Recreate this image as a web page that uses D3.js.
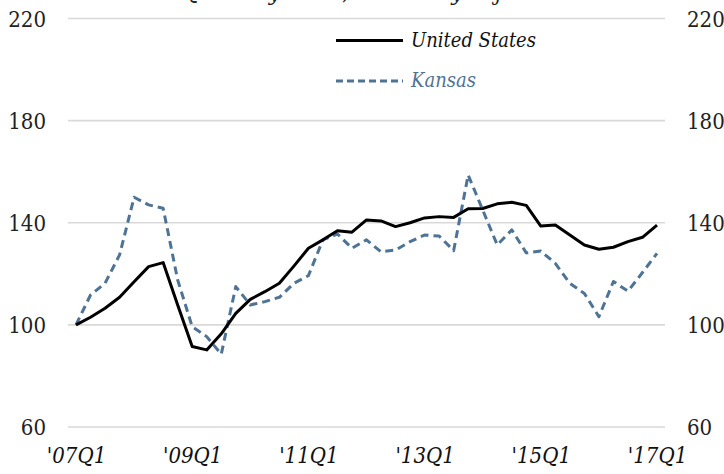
<!DOCTYPE html>
<html>
<head>
<meta charset="utf-8">
<script src="https://cdn.jsdelivr.net/npm/d3@7"></script>
<style>
  html, body { margin: 0; padding: 0; background: #fff; }
  .serif { font-family: "DejaVu Serif Condensed", "DejaVu Serif", serif; font-stretch: condensed; }
</style>
</head>
<body>
<svg id="chart" width="724" height="474"></svg>
<script>
// Quarterly index, 2007Q1 = 100
const quarters = [];
for (let yr = 7; yr <= 17; yr++) {
  for (let q = 1; q <= 4; q++) {
    if (yr === 17 && q > 1) break;
    quarters.push("'" + String(yr).padStart(2, "0") + "Q" + q);
  }
}

const unitedStates = [
  100, 103, 106.5, 110.8, 116.9, 122.8, 124.4, 107.8, 91.5, 90.2,
  96.5, 104.5, 110, 113, 116.3, 123, 130, 133.3, 136.9, 136.3,
  141.1, 140.7, 138.5, 140, 141.9, 142.4, 142.1, 145.5, 145.6, 147.4,
  148, 146.8, 138.7, 139.1, 135.2, 131.3, 129.6, 130.4, 132.6, 134.3,
  139.1
];

const kansas = [
  100, 111.7, 116.3, 127.4, 150, 147, 145.7, 117.6, 99.3, 95.4,
  88.5, 115, 107.8, 109.1, 110.8, 116.3, 119.3, 133.3, 135.6, 130,
  133.3, 128.6, 129.3, 132.6, 135.2, 134.8, 129.1, 158.7, 145, 131.3,
  137.2, 128.2, 128.9, 124.1, 116.3, 112.3, 103.2, 117, 113.2, 120.5,
  128
];

const yTicks = [60, 100, 140, 180, 220];
const xTickLabels = ["'07Q1", "'09Q1", "'11Q1", "'13Q1", "'15Q1", "'17Q1"];

const seriesNames = ["United States", "Kansas"];
const seriesColors = ["#000000", "#4f7395"];

const svg = d3.select("#chart");

const x = d3.scalePoint().domain(quarters).range([76, 657]);
const y = d3.scaleLinear().domain([60, 220]).range([427, 18.5]);

// Horizontal gridlines
svg.append("g")
  .selectAll("line")
  .data(yTicks)
  .join("line")
  .attr("x1", 68).attr("x2", 665)
  .attr("y1", d => y(d)).attr("y2", d => y(d))
  .attr("stroke", "#d9d9d9")
  .attr("stroke-width", 1.6);

// Left and right value axes
const leftAxis = svg.append("g")
  .attr("transform", "translate(46,0)")
  .call(d3.axisLeft(y).tickValues(yTicks).tickSize(0).tickPadding(0));
const rightAxis = svg.append("g")
  .attr("transform", "translate(687,0)")
  .call(d3.axisRight(y).tickValues(yTicks).tickSize(0).tickPadding(0));
[leftAxis, rightAxis].forEach(g => {
  g.attr("font-family", null);
  g.select(".domain").remove();
  g.selectAll("text")
    .attr("class", "serif")
    .attr("font-size", 22)
    .attr("fill", "#222")
    .attr("dy", "0.36em");
});

// Category axis
const xAxis = svg.append("g")
  .attr("transform", "translate(0,447)")
  .call(d3.axisBottom(x).tickValues(xTickLabels).tickSize(0).tickPadding(0));
xAxis.attr("font-family", null);
xAxis.select(".domain").remove();
xAxis.selectAll("text")
  .attr("class", "serif")
  .attr("font-size", 22)
  .attr("font-style", "italic")
  .attr("fill", "#111")
  .attr("dy", "0.71em");

// Heading, running off the top edge
svg.append("text")
  .attr("class", "serif")
  .attr("x", 370).attr("y", 0)
  .attr("text-anchor", "middle")
  .attr("font-size", 22)
  .attr("font-style", "italic")
  .attr("fill", "#222")
  .text("Quarterly Index, Seasonally Adjusted");

const line = d3.line()
  .x((d, i) => x(quarters[i]))
  .y(d => y(d));

svg.append("path")
  .datum(kansas)
  .attr("fill", "none")
  .attr("stroke", seriesColors[1])
  .attr("stroke-width", 3)
  .attr("stroke-dasharray", "8,5")
  .attr("stroke-linejoin", "round")
  .attr("d", line);

svg.append("path")
  .datum(unitedStates)
  .attr("fill", "none")
  .attr("stroke", seriesColors[0])
  .attr("stroke-width", 3)
  .attr("stroke-linejoin", "round")
  .attr("d", line);

// Legend
const legend = svg.append("g");
const legendRows = [
  { name: seriesNames[0], color: seriesColors[0], dash: null, y: 40.5, textColor: "#111" },
  { name: seriesNames[1], color: seriesColors[1], dash: "7,4", y: 81, textColor: seriesColors[1] }
];
legendRows.forEach(r => {
  legend.append("line")
    .attr("x1", 336).attr("x2", 403)
    .attr("y1", r.y).attr("y2", r.y)
    .attr("stroke", r.color)
    .attr("stroke-width", 3)
    .attr("stroke-dasharray", r.dash);
  legend.append("text")
    .attr("class", "serif")
    .attr("x", 411).attr("y", r.y + 6)
    .attr("font-size", 20)
    .attr("font-style", "italic")
    .attr("fill", r.textColor)
    .text(r.name);
});
</script>
</body>
</html>
